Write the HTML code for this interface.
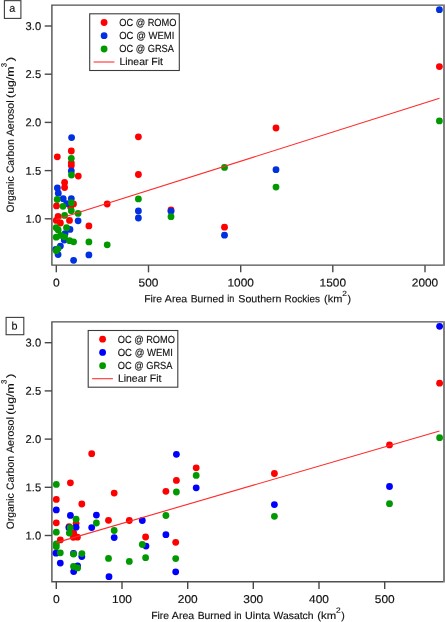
<!DOCTYPE html>
<html lang="en"><head><meta charset="utf-8"><title>Organic Carbon Aerosol vs Fire Area Burned</title>
<style>html,body{margin:0;padding:0;background:#fff}svg{display:block;will-change:transform}text{font-family:"Liberation Sans",sans-serif}</style></head>
<body>
<svg width="445" height="622" viewBox="0 0 445 622">
<rect width="445" height="622" fill="#fff"/>
<rect x="443" y="4.45" width="2" height="261.4" fill="#808080"/>
<path d="M51.9 5.15H443.2M51.9 265.15H443.2M51.9 4.45V265.84999999999997" fill="none" stroke="#505050" stroke-width="1.4"/>
<path d="M44.699999999999996 26.0H51.9" stroke="#484848" stroke-width="1.4"/>
<text x="25.6" y="29.9" transform="rotate(0.03 25.6 29.9)" text-anchor="start" font-size="11.3" fill="#111" stroke="#111" stroke-width="0.15" font-family="Liberation Sans, sans-serif" textLength="15.5" lengthAdjust="spacingAndGlyphs">3.0</text>
<path d="M44.699999999999996 74.2H51.9" stroke="#484848" stroke-width="1.4"/>
<text x="25.6" y="78.1" transform="rotate(0.03 25.6 78.1)" text-anchor="start" font-size="11.3" fill="#111" stroke="#111" stroke-width="0.15" font-family="Liberation Sans, sans-serif" textLength="15.5" lengthAdjust="spacingAndGlyphs">2.5</text>
<path d="M44.699999999999996 122.4H51.9" stroke="#484848" stroke-width="1.4"/>
<text x="25.6" y="126.3" transform="rotate(0.03 25.6 126.3)" text-anchor="start" font-size="11.3" fill="#111" stroke="#111" stroke-width="0.15" font-family="Liberation Sans, sans-serif" textLength="15.5" lengthAdjust="spacingAndGlyphs">2.0</text>
<path d="M44.699999999999996 170.6H51.9" stroke="#484848" stroke-width="1.4"/>
<text x="25.6" y="174.63" transform="rotate(0.03 25.6 174.63)" text-anchor="start" font-size="11.3" fill="#111" stroke="#111" stroke-width="0.15" font-family="Liberation Sans, sans-serif" textLength="15.5" lengthAdjust="spacingAndGlyphs">1.5</text>
<path d="M44.699999999999996 218.8H51.9" stroke="#484848" stroke-width="1.4"/>
<text x="25.6" y="222.7" transform="rotate(0.03 25.6 222.7)" text-anchor="start" font-size="11.3" fill="#111" stroke="#111" stroke-width="0.15" font-family="Liberation Sans, sans-serif" textLength="15.5" lengthAdjust="spacingAndGlyphs">1.0</text>
<path d="M56.3 265.15V272.34999999999997" stroke="#484848" stroke-width="1.4"/>
<text x="52.92" y="286.4" transform="rotate(0.03 52.92 286.4)" text-anchor="start" font-size="11.3" fill="#111" stroke="#111" stroke-width="0.15" font-family="Liberation Sans, sans-serif" textLength="6.75" lengthAdjust="spacingAndGlyphs">0</text>
<path d="M148.5 265.15V272.34999999999997" stroke="#484848" stroke-width="1.4"/>
<text x="138.57" y="286.4" transform="rotate(0.03 138.57 286.4)" text-anchor="start" font-size="11.3" fill="#111" stroke="#111" stroke-width="0.15" font-family="Liberation Sans, sans-serif" textLength="19.85" lengthAdjust="spacingAndGlyphs">500</text>
<path d="M240.7 265.15V272.34999999999997" stroke="#484848" stroke-width="1.4"/>
<text x="227.5" y="286.4" transform="rotate(0.03 227.5 286.4)" text-anchor="start" font-size="11.3" fill="#111" stroke="#111" stroke-width="0.15" font-family="Liberation Sans, sans-serif" textLength="26.4" lengthAdjust="spacingAndGlyphs">1000</text>
<path d="M332.8 265.15V272.34999999999997" stroke="#484848" stroke-width="1.4"/>
<text x="319.6" y="286.4" transform="rotate(0.03 319.6 286.4)" text-anchor="start" font-size="11.3" fill="#111" stroke="#111" stroke-width="0.15" font-family="Liberation Sans, sans-serif" textLength="26.4" lengthAdjust="spacingAndGlyphs">1500</text>
<path d="M425.0 265.15V272.34999999999997" stroke="#484848" stroke-width="1.4"/>
<text x="411.8" y="286.4" transform="rotate(0.03 411.8 286.4)" text-anchor="start" font-size="11.3" fill="#111" stroke="#111" stroke-width="0.15" font-family="Liberation Sans, sans-serif" textLength="26.4" lengthAdjust="spacingAndGlyphs">2000</text>
<text x="144.15" y="302.3" transform="rotate(0.03 144.15 302.3)" text-anchor="start" font-size="10.3" fill="#111" stroke="#111" stroke-width="0.15" font-family="Liberation Sans, sans-serif" textLength="17.92" lengthAdjust="spacingAndGlyphs">Fire</text>
<text x="164.88" y="302.3" transform="rotate(0.03 164.88 302.3)" text-anchor="start" font-size="10.3" fill="#111" stroke="#111" stroke-width="0.15" font-family="Liberation Sans, sans-serif" textLength="22.32" lengthAdjust="spacingAndGlyphs">Area</text>
<text x="190.65" y="302.3" transform="rotate(0.03 190.65 302.3)" text-anchor="start" font-size="10.3" fill="#111" stroke="#111" stroke-width="0.15" font-family="Liberation Sans, sans-serif" textLength="33.42" lengthAdjust="spacingAndGlyphs">Burned</text>
<text x="227.29" y="302.3" transform="rotate(0.03 227.29 302.3)" text-anchor="start" font-size="10.3" fill="#111" stroke="#111" stroke-width="0.15" font-family="Liberation Sans, sans-serif" textLength="7.1" lengthAdjust="spacingAndGlyphs">in</text>
<text x="238.32" y="302.3" transform="rotate(0.03 238.32 302.3)" text-anchor="start" font-size="10.3" fill="#111" stroke="#111" stroke-width="0.15" font-family="Liberation Sans, sans-serif" textLength="43.17" lengthAdjust="spacingAndGlyphs">Southern</text>
<text x="284.58" y="302.3" transform="rotate(0.03 284.58 302.3)" text-anchor="start" font-size="10.3" fill="#111" stroke="#111" stroke-width="0.15" font-family="Liberation Sans, sans-serif" textLength="35.38" lengthAdjust="spacingAndGlyphs">Rockies</text>
<text x="324.02" y="302.3" transform="rotate(0.03 324.02 302.3)" text-anchor="start" font-size="10.3" fill="#111" stroke="#111" stroke-width="0.15" font-family="Liberation Sans, sans-serif" textLength="18.31" lengthAdjust="spacingAndGlyphs">(km</text>
<text x="342.38" y="296.0" transform="rotate(0.03 342.38 296.0)" text-anchor="start" font-size="7.5" fill="#111" stroke="#111" stroke-width="0.15" font-family="Liberation Sans, sans-serif" textLength="4.64" lengthAdjust="spacingAndGlyphs">2</text>
<text x="347.64" y="302.3" transform="rotate(0.03 347.64 302.3)" text-anchor="start" font-size="10.3" fill="#111" stroke="#111" stroke-width="0.15" font-family="Liberation Sans, sans-serif" textLength="3.52" lengthAdjust="spacingAndGlyphs">)</text>
<g transform="translate(13.8 212.2) rotate(-90)"><text x="-0.29" y="0" transform="rotate(0.03 -0.29 0)" text-anchor="start" font-size="10.3" fill="#111" stroke="#111" stroke-width="0.15" font-family="Liberation Sans, sans-serif" textLength="36.06" lengthAdjust="spacingAndGlyphs">Organic</text><text x="39.08" y="0" transform="rotate(0.03 39.08 0)" text-anchor="start" font-size="10.3" fill="#111" stroke="#111" stroke-width="0.15" font-family="Liberation Sans, sans-serif" textLength="33.9" lengthAdjust="spacingAndGlyphs">Carbon</text><text x="75.98" y="0" transform="rotate(0.03 75.98 0)" text-anchor="start" font-size="10.3" fill="#111" stroke="#111" stroke-width="0.15" font-family="Liberation Sans, sans-serif" textLength="35.83" lengthAdjust="spacingAndGlyphs">Aerosol</text><text x="114.24" y="0" transform="rotate(0.03 114.24 0)" text-anchor="start" font-size="10.3" fill="#111" stroke="#111" stroke-width="0.15" font-family="Liberation Sans, sans-serif" textLength="31.48" lengthAdjust="spacingAndGlyphs">(ug/m</text><text x="145.0" y="-7.2" transform="rotate(0.03 145.0 -7.2)" text-anchor="start" font-size="7.5" fill="#111" stroke="#111" stroke-width="0.15" font-family="Liberation Sans, sans-serif" textLength="4.34" lengthAdjust="spacingAndGlyphs">3</text><text x="150.92" y="0" transform="rotate(0.03 150.92 0)" text-anchor="start" font-size="10.3" fill="#111" stroke="#111" stroke-width="0.15" font-family="Liberation Sans, sans-serif" textLength="4.4" lengthAdjust="spacingAndGlyphs">)</text></g>
<rect x="4.4" y="0.65" width="16.5" height="17.75" fill="#fff" stroke="#3c3c3c" stroke-width="1.1"/>
<text x="12.2" y="11.8" transform="rotate(0.03 12.2 11.8)" text-anchor="middle" font-size="10.8" fill="#111" stroke="#111" stroke-width="0.15" font-family="Liberation Sans, sans-serif">a</text>
<circle cx="57.3" cy="156.8" r="3.4" fill="#ff0000"/><circle cx="71.3" cy="151" r="3.4" fill="#ff0000"/><circle cx="71.3" cy="162.8" r="3.4" fill="#ff0000"/><circle cx="71.3" cy="165.6" r="3.4" fill="#ff0000"/><circle cx="78.3" cy="176.1" r="3.4" fill="#ff0000"/><circle cx="64.6" cy="182.4" r="3.4" fill="#ff0000"/><circle cx="64.6" cy="187.5" r="3.4" fill="#ff0000"/><circle cx="73.5" cy="203.9" r="3.4" fill="#ff0000"/><circle cx="56.5" cy="205.9" r="3.4" fill="#ff0000"/><circle cx="70.6" cy="207" r="3.4" fill="#ff0000"/><circle cx="58.1" cy="216.5" r="3.4" fill="#ff0000"/><circle cx="56.3" cy="220.4" r="3.4" fill="#ff0000"/><circle cx="60.4" cy="223" r="3.4" fill="#ff0000"/><circle cx="69.5" cy="220.4" r="3.4" fill="#ff0000"/><circle cx="88.9" cy="225.9" r="3.4" fill="#ff0000"/><circle cx="107.2" cy="204" r="3.4" fill="#ff0000"/><circle cx="138.4" cy="136.8" r="3.4" fill="#ff0000"/><circle cx="138.4" cy="174.5" r="3.4" fill="#ff0000"/><circle cx="171" cy="210" r="3.4" fill="#ff0000"/><circle cx="224.5" cy="227.2" r="3.4" fill="#ff0000"/><circle cx="276" cy="128" r="3.4" fill="#ff0000"/><circle cx="439.4" cy="66.6" r="3.4" fill="#ff0000"/>
<circle cx="71.6" cy="137.6" r="3.4" fill="#0030e0"/><circle cx="71.3" cy="171" r="3.4" fill="#0030e0"/><circle cx="57.4" cy="187.9" r="3.4" fill="#0030e0"/><circle cx="58.3" cy="193.2" r="3.4" fill="#0030e0"/><circle cx="63.2" cy="198.7" r="3.4" fill="#0030e0"/><circle cx="71.3" cy="198.6" r="3.4" fill="#0030e0"/><circle cx="66.6" cy="203.7" r="3.4" fill="#0030e0"/><circle cx="78.1" cy="220.8" r="3.4" fill="#0030e0"/><circle cx="70" cy="229.4" r="3.4" fill="#0030e0"/><circle cx="65" cy="233.6" r="3.4" fill="#0030e0"/><circle cx="64.2" cy="240" r="3.4" fill="#0030e0"/><circle cx="60.4" cy="246.1" r="3.4" fill="#0030e0"/><circle cx="55.8" cy="249.4" r="3.4" fill="#0030e0"/><circle cx="58.1" cy="254.6" r="3.4" fill="#0030e0"/><circle cx="88.9" cy="254.9" r="3.4" fill="#0030e0"/><circle cx="73.6" cy="260.3" r="3.4" fill="#0030e0"/><circle cx="138.4" cy="211" r="3.4" fill="#0030e0"/><circle cx="138.4" cy="218" r="3.4" fill="#0030e0"/><circle cx="171" cy="211.2" r="3.4" fill="#0030e0"/><circle cx="224.5" cy="235.2" r="3.4" fill="#0030e0"/><circle cx="276" cy="169.7" r="3.4" fill="#0030e0"/><circle cx="439.4" cy="9.7" r="3.4" fill="#0030e0"/>
<circle cx="71.3" cy="158.3" r="3.4" fill="#009a00"/><circle cx="71.5" cy="175" r="3.4" fill="#009a00"/><circle cx="57.2" cy="199.5" r="3.4" fill="#009a00"/><circle cx="71.3" cy="202.7" r="3.4" fill="#009a00"/><circle cx="63" cy="206.3" r="3.4" fill="#009a00"/><circle cx="71.3" cy="210.7" r="3.4" fill="#009a00"/><circle cx="78.1" cy="213.4" r="3.4" fill="#009a00"/><circle cx="64.6" cy="215.4" r="3.4" fill="#009a00"/><circle cx="56.2" cy="227.7" r="3.4" fill="#009a00"/><circle cx="58.2" cy="230" r="3.4" fill="#009a00"/><circle cx="66.5" cy="227.7" r="3.4" fill="#009a00"/><circle cx="56.2" cy="237.2" r="3.4" fill="#009a00"/><circle cx="60.7" cy="235.4" r="3.4" fill="#009a00"/><circle cx="64.6" cy="236.8" r="3.4" fill="#009a00"/><circle cx="69.6" cy="240.7" r="3.4" fill="#009a00"/><circle cx="73.6" cy="241.8" r="3.4" fill="#009a00"/><circle cx="88.9" cy="241.9" r="3.4" fill="#009a00"/><circle cx="107.2" cy="244.8" r="3.4" fill="#009a00"/><circle cx="57.9" cy="248.8" r="3.4" fill="#009a00"/><circle cx="56.3" cy="250.8" r="3.4" fill="#009a00"/><circle cx="138.4" cy="198.9" r="3.4" fill="#009a00"/><circle cx="171" cy="216.7" r="3.4" fill="#009a00"/><circle cx="224.5" cy="167.4" r="3.4" fill="#009a00"/><circle cx="276" cy="187.1" r="3.4" fill="#009a00"/><circle cx="439.4" cy="120.9" r="3.4" fill="#009a00"/>
<path d="M56.3 219.5L439.5 98.3" stroke="#ff2a2a" stroke-width="1.1" fill="none"/>
<g transform="translate(0 0)">
<rect x="89.7" y="13.8" width="89.6" height="56.7" fill="#fff" stroke="#3c3c3c" stroke-width="1.1"/>
<circle cx="104.1" cy="22.5" r="3.4" fill="#ff0000"/><circle cx="104.1" cy="35.7" r="3.4" fill="#0030e0"/><circle cx="104.1" cy="49" r="3.4" fill="#009a00"/>
<path d="M93.6 62H114.4" stroke="#ff3030" stroke-width="1.1"/>
<text x="119.2" y="25.9" transform="rotate(0.03 119.2 25.9)" text-anchor="start" font-size="10.3" fill="#111" stroke="#111" stroke-width="0.15" font-family="Liberation Sans, sans-serif" textLength="57.3" lengthAdjust="spacingAndGlyphs">OC @ ROMO</text>
<text x="119.2" y="39.1" transform="rotate(0.03 119.2 39.1)" text-anchor="start" font-size="10.3" fill="#111" stroke="#111" stroke-width="0.15" font-family="Liberation Sans, sans-serif" textLength="55.2" lengthAdjust="spacingAndGlyphs">OC @ WEMI</text>
<text x="119.2" y="52.2" transform="rotate(0.03 119.2 52.2)" text-anchor="start" font-size="10.3" fill="#111" stroke="#111" stroke-width="0.15" font-family="Liberation Sans, sans-serif" textLength="54.8" lengthAdjust="spacingAndGlyphs">OC @ GRSA</text>
<text x="119.45" y="65" transform="rotate(0.03 119.45 65)" text-anchor="start" font-size="10.3" fill="#111" stroke="#111" stroke-width="0.15" font-family="Liberation Sans, sans-serif" textLength="43.5" lengthAdjust="spacingAndGlyphs">Linear Fit</text>
</g>
<rect x="443" y="321.2" width="2" height="261.25" fill="#808080"/>
<path d="M51.9 321.9H443.2M51.9 581.75H443.2M51.9 321.2V582.45" fill="none" stroke="#505050" stroke-width="1.4"/>
<path d="M44.699999999999996 342.7H51.9" stroke="#484848" stroke-width="1.4"/>
<text x="25.6" y="346.6" transform="rotate(0.03 25.6 346.6)" text-anchor="start" font-size="11.3" fill="#111" stroke="#111" stroke-width="0.15" font-family="Liberation Sans, sans-serif" textLength="15.5" lengthAdjust="spacingAndGlyphs">3.0</text>
<path d="M44.699999999999996 390.9H51.9" stroke="#484848" stroke-width="1.4"/>
<text x="25.6" y="394.8" transform="rotate(0.03 25.6 394.8)" text-anchor="start" font-size="11.3" fill="#111" stroke="#111" stroke-width="0.15" font-family="Liberation Sans, sans-serif" textLength="15.5" lengthAdjust="spacingAndGlyphs">2.5</text>
<path d="M44.699999999999996 439.1H51.9" stroke="#484848" stroke-width="1.4"/>
<text x="25.6" y="443.0" transform="rotate(0.03 25.6 443.0)" text-anchor="start" font-size="11.3" fill="#111" stroke="#111" stroke-width="0.15" font-family="Liberation Sans, sans-serif" textLength="15.5" lengthAdjust="spacingAndGlyphs">2.0</text>
<path d="M44.699999999999996 487.3H51.9" stroke="#484848" stroke-width="1.4"/>
<text x="25.6" y="491.2" transform="rotate(0.03 25.6 491.2)" text-anchor="start" font-size="11.3" fill="#111" stroke="#111" stroke-width="0.15" font-family="Liberation Sans, sans-serif" textLength="15.5" lengthAdjust="spacingAndGlyphs">1.5</text>
<path d="M44.699999999999996 535.5H51.9" stroke="#484848" stroke-width="1.4"/>
<text x="25.6" y="539.4" transform="rotate(0.03 25.6 539.4)" text-anchor="start" font-size="11.3" fill="#111" stroke="#111" stroke-width="0.15" font-family="Liberation Sans, sans-serif" textLength="15.5" lengthAdjust="spacingAndGlyphs">1.0</text>
<path d="M56.3 581.75V588.95" stroke="#484848" stroke-width="1.4"/>
<text x="52.92" y="603.1" transform="rotate(0.03 52.92 603.1)" text-anchor="start" font-size="11.3" fill="#111" stroke="#111" stroke-width="0.15" font-family="Liberation Sans, sans-serif" textLength="6.75" lengthAdjust="spacingAndGlyphs">0</text>
<path d="M122.0 581.75V588.95" stroke="#484848" stroke-width="1.4"/>
<text x="112.08" y="603.1" transform="rotate(0.03 112.08 603.1)" text-anchor="start" font-size="11.3" fill="#111" stroke="#111" stroke-width="0.15" font-family="Liberation Sans, sans-serif" textLength="19.85" lengthAdjust="spacingAndGlyphs">100</text>
<path d="M187.7 581.75V588.95" stroke="#484848" stroke-width="1.4"/>
<text x="177.77" y="603.1" transform="rotate(0.03 177.77 603.1)" text-anchor="start" font-size="11.3" fill="#111" stroke="#111" stroke-width="0.15" font-family="Liberation Sans, sans-serif" textLength="19.85" lengthAdjust="spacingAndGlyphs">200</text>
<path d="M253.3 581.75V588.95" stroke="#484848" stroke-width="1.4"/>
<text x="243.38" y="603.1" transform="rotate(0.03 243.38 603.1)" text-anchor="start" font-size="11.3" fill="#111" stroke="#111" stroke-width="0.15" font-family="Liberation Sans, sans-serif" textLength="19.85" lengthAdjust="spacingAndGlyphs">300</text>
<path d="M319.0 581.75V588.95" stroke="#484848" stroke-width="1.4"/>
<text x="309.07" y="603.1" transform="rotate(0.03 309.07 603.1)" text-anchor="start" font-size="11.3" fill="#111" stroke="#111" stroke-width="0.15" font-family="Liberation Sans, sans-serif" textLength="19.85" lengthAdjust="spacingAndGlyphs">400</text>
<path d="M384.7 581.75V588.95" stroke="#484848" stroke-width="1.4"/>
<text x="374.77" y="603.1" transform="rotate(0.03 374.77 603.1)" text-anchor="start" font-size="11.3" fill="#111" stroke="#111" stroke-width="0.15" font-family="Liberation Sans, sans-serif" textLength="19.85" lengthAdjust="spacingAndGlyphs">500</text>
<text x="151.15" y="619" transform="rotate(0.03 151.15 619)" text-anchor="start" font-size="10.3" fill="#111" stroke="#111" stroke-width="0.15" font-family="Liberation Sans, sans-serif" textLength="17.92" lengthAdjust="spacingAndGlyphs">Fire</text>
<text x="171.88" y="619" transform="rotate(0.03 171.88 619)" text-anchor="start" font-size="10.3" fill="#111" stroke="#111" stroke-width="0.15" font-family="Liberation Sans, sans-serif" textLength="22.32" lengthAdjust="spacingAndGlyphs">Area</text>
<text x="197.65" y="619" transform="rotate(0.03 197.65 619)" text-anchor="start" font-size="10.3" fill="#111" stroke="#111" stroke-width="0.15" font-family="Liberation Sans, sans-serif" textLength="33.42" lengthAdjust="spacingAndGlyphs">Burned</text>
<text x="234.17" y="619" transform="rotate(0.03 234.17 619)" text-anchor="start" font-size="10.3" fill="#111" stroke="#111" stroke-width="0.15" font-family="Liberation Sans, sans-serif" textLength="7.34" lengthAdjust="spacingAndGlyphs">in</text>
<text x="245.07" y="619" transform="rotate(0.03 245.07 619)" text-anchor="start" font-size="10.3" fill="#111" stroke="#111" stroke-width="0.15" font-family="Liberation Sans, sans-serif" textLength="25.13" lengthAdjust="spacingAndGlyphs">Uinta</text>
<text x="273.55" y="619" transform="rotate(0.03 273.55 619)" text-anchor="start" font-size="10.3" fill="#111" stroke="#111" stroke-width="0.15" font-family="Liberation Sans, sans-serif" textLength="40.01" lengthAdjust="spacingAndGlyphs">Wasatch</text>
<text x="317.3" y="619" transform="rotate(0.03 317.3 619)" text-anchor="start" font-size="10.3" fill="#111" stroke="#111" stroke-width="0.15" font-family="Liberation Sans, sans-serif" textLength="18.85" lengthAdjust="spacingAndGlyphs">(km</text>
<text x="336.08" y="612.7" transform="rotate(0.03 336.08 612.7)" text-anchor="start" font-size="7.5" fill="#111" stroke="#111" stroke-width="0.15" font-family="Liberation Sans, sans-serif" textLength="4.64" lengthAdjust="spacingAndGlyphs">2</text>
<text x="341.34" y="619" transform="rotate(0.03 341.34 619)" text-anchor="start" font-size="10.3" fill="#111" stroke="#111" stroke-width="0.15" font-family="Liberation Sans, sans-serif" textLength="3.52" lengthAdjust="spacingAndGlyphs">)</text>
<g transform="translate(13.8 529) rotate(-90)"><text x="-0.29" y="0" transform="rotate(0.03 -0.29 0)" text-anchor="start" font-size="10.3" fill="#111" stroke="#111" stroke-width="0.15" font-family="Liberation Sans, sans-serif" textLength="36.06" lengthAdjust="spacingAndGlyphs">Organic</text><text x="39.08" y="0" transform="rotate(0.03 39.08 0)" text-anchor="start" font-size="10.3" fill="#111" stroke="#111" stroke-width="0.15" font-family="Liberation Sans, sans-serif" textLength="33.9" lengthAdjust="spacingAndGlyphs">Carbon</text><text x="75.98" y="0" transform="rotate(0.03 75.98 0)" text-anchor="start" font-size="10.3" fill="#111" stroke="#111" stroke-width="0.15" font-family="Liberation Sans, sans-serif" textLength="35.83" lengthAdjust="spacingAndGlyphs">Aerosol</text><text x="114.24" y="0" transform="rotate(0.03 114.24 0)" text-anchor="start" font-size="10.3" fill="#111" stroke="#111" stroke-width="0.15" font-family="Liberation Sans, sans-serif" textLength="31.48" lengthAdjust="spacingAndGlyphs">(ug/m</text><text x="145.0" y="-7.2" transform="rotate(0.03 145.0 -7.2)" text-anchor="start" font-size="7.5" fill="#111" stroke="#111" stroke-width="0.15" font-family="Liberation Sans, sans-serif" textLength="4.34" lengthAdjust="spacingAndGlyphs">3</text><text x="150.92" y="0" transform="rotate(0.03 150.92 0)" text-anchor="start" font-size="10.3" fill="#111" stroke="#111" stroke-width="0.15" font-family="Liberation Sans, sans-serif" textLength="4.4" lengthAdjust="spacingAndGlyphs">)</text></g>
<rect x="6.1" y="317.4" width="17.700000000000003" height="17.30000000000001" fill="#fff" stroke="#3c3c3c" stroke-width="1.1"/>
<text x="14.6" y="329.4" transform="rotate(0.03 14.6 329.4)" text-anchor="middle" font-size="10.8" fill="#111" stroke="#111" stroke-width="0.15" font-family="Liberation Sans, sans-serif">b</text>
<circle cx="91.7" cy="453.7" r="3.4" fill="#ff0000"/><circle cx="70.4" cy="482.8" r="3.4" fill="#ff0000"/><circle cx="114.2" cy="493.1" r="3.4" fill="#ff0000"/><circle cx="56.3" cy="499.4" r="3.4" fill="#ff0000"/><circle cx="81.8" cy="504" r="3.4" fill="#ff0000"/><circle cx="56.3" cy="522.8" r="3.4" fill="#ff0000"/><circle cx="76.1" cy="523.3" r="3.4" fill="#ff0000"/><circle cx="69.1" cy="526.6" r="3.4" fill="#ff0000"/><circle cx="108.5" cy="520.3" r="3.4" fill="#ff0000"/><circle cx="73.7" cy="533" r="3.4" fill="#ff0000"/><circle cx="73.3" cy="537.3" r="3.4" fill="#ff0000"/><circle cx="77.4" cy="537.2" r="3.4" fill="#ff0000"/><circle cx="60.3" cy="539.9" r="3.4" fill="#ff0000"/><circle cx="129.3" cy="520.5" r="3.4" fill="#ff0000"/><circle cx="145.6" cy="537" r="3.4" fill="#ff0000"/><circle cx="165.9" cy="491.3" r="3.4" fill="#ff0000"/><circle cx="176.4" cy="480.4" r="3.4" fill="#ff0000"/><circle cx="175.7" cy="542.3" r="3.4" fill="#ff0000"/><circle cx="196.2" cy="467.8" r="3.4" fill="#ff0000"/><circle cx="274.4" cy="473.5" r="3.4" fill="#ff0000"/><circle cx="389.5" cy="444.9" r="3.4" fill="#ff0000"/><circle cx="439.6" cy="383.2" r="3.4" fill="#ff0000"/>
<circle cx="56.3" cy="509.9" r="3.4" fill="#0000ff"/><circle cx="70.4" cy="515.4" r="3.4" fill="#0000ff"/><circle cx="96.4" cy="515.1" r="3.4" fill="#0000ff"/><circle cx="76.1" cy="527.2" r="3.4" fill="#0000ff"/><circle cx="68.9" cy="527.7" r="3.4" fill="#0000ff"/><circle cx="91.7" cy="527.6" r="3.4" fill="#0000ff"/><circle cx="114.2" cy="537.6" r="3.4" fill="#0000ff"/><circle cx="56" cy="553.2" r="3.4" fill="#0000ff"/><circle cx="81.8" cy="556.5" r="3.4" fill="#0000ff"/><circle cx="73.5" cy="553.4" r="3.4" fill="#0000ff"/><circle cx="60.3" cy="563.1" r="3.4" fill="#0000ff"/><circle cx="77.6" cy="566" r="3.4" fill="#0000ff"/><circle cx="73.7" cy="571.6" r="3.4" fill="#0000ff"/><circle cx="142.3" cy="520.5" r="3.4" fill="#0000ff"/><circle cx="165.9" cy="534.7" r="3.4" fill="#0000ff"/><circle cx="146" cy="546.1" r="3.4" fill="#0000ff"/><circle cx="176.4" cy="454.3" r="3.4" fill="#0000ff"/><circle cx="196.2" cy="487.8" r="3.4" fill="#0000ff"/><circle cx="175.7" cy="571.8" r="3.4" fill="#0000ff"/><circle cx="109" cy="576.7" r="3.4" fill="#0000ff"/><circle cx="274.4" cy="504.6" r="3.4" fill="#0000ff"/><circle cx="389.5" cy="486.5" r="3.4" fill="#0000ff"/><circle cx="439.6" cy="326.3" r="3.4" fill="#0000ff"/>
<circle cx="56.3" cy="484.4" r="3.4" fill="#009a00"/><circle cx="76.1" cy="519.2" r="3.4" fill="#009a00"/><circle cx="96.4" cy="523" r="3.4" fill="#009a00"/><circle cx="70.2" cy="527.6" r="3.4" fill="#009a00"/><circle cx="69.3" cy="533.1" r="3.4" fill="#009a00"/><circle cx="56.3" cy="532.2" r="3.4" fill="#009a00"/><circle cx="114.2" cy="530.5" r="3.4" fill="#009a00"/><circle cx="56.3" cy="544" r="3.4" fill="#009a00"/><circle cx="56.3" cy="546.7" r="3.4" fill="#009a00"/><circle cx="60.3" cy="552.8" r="3.4" fill="#009a00"/><circle cx="73.5" cy="554.1" r="3.4" fill="#009a00"/><circle cx="81.9" cy="553.6" r="3.4" fill="#009a00"/><circle cx="108.5" cy="558.4" r="3.4" fill="#009a00"/><circle cx="73.5" cy="566.4" r="3.4" fill="#009a00"/><circle cx="77.6" cy="567.9" r="3.4" fill="#009a00"/><circle cx="142.3" cy="544.5" r="3.4" fill="#009a00"/><circle cx="145.6" cy="557.7" r="3.4" fill="#009a00"/><circle cx="129.3" cy="561.4" r="3.4" fill="#009a00"/><circle cx="165.9" cy="515.5" r="3.4" fill="#009a00"/><circle cx="176.4" cy="492" r="3.4" fill="#009a00"/><circle cx="175.7" cy="558.6" r="3.4" fill="#009a00"/><circle cx="196.2" cy="475.4" r="3.4" fill="#009a00"/><circle cx="274.4" cy="516.3" r="3.4" fill="#009a00"/><circle cx="389.5" cy="503.7" r="3.4" fill="#009a00"/><circle cx="439.6" cy="437.7" r="3.4" fill="#009a00"/>
<path d="M56.3 542.6L439.5 431" stroke="#ff2a2a" stroke-width="1.1" fill="none"/>
<g transform="translate(-1.5 316.7)">
<rect x="89.7" y="13.8" width="89.6" height="56.7" fill="#fff" stroke="#3c3c3c" stroke-width="1.1"/>
<circle cx="104.1" cy="22.5" r="3.4" fill="#ff0000"/><circle cx="104.1" cy="35.7" r="3.4" fill="#0000ff"/><circle cx="104.1" cy="49" r="3.4" fill="#009a00"/>
<path d="M93.6 62H114.4" stroke="#ff3030" stroke-width="1.1"/>
<text x="119.2" y="25.9" transform="rotate(0.03 119.2 25.9)" text-anchor="start" font-size="10.3" fill="#111" stroke="#111" stroke-width="0.15" font-family="Liberation Sans, sans-serif" textLength="57.3" lengthAdjust="spacingAndGlyphs">OC @ ROMO</text>
<text x="119.2" y="39.1" transform="rotate(0.03 119.2 39.1)" text-anchor="start" font-size="10.3" fill="#111" stroke="#111" stroke-width="0.15" font-family="Liberation Sans, sans-serif" textLength="55.2" lengthAdjust="spacingAndGlyphs">OC @ WEMI</text>
<text x="119.2" y="52.2" transform="rotate(0.03 119.2 52.2)" text-anchor="start" font-size="10.3" fill="#111" stroke="#111" stroke-width="0.15" font-family="Liberation Sans, sans-serif" textLength="54.8" lengthAdjust="spacingAndGlyphs">OC @ GRSA</text>
<text x="119.45" y="65" transform="rotate(0.03 119.45 65)" text-anchor="start" font-size="10.3" fill="#111" stroke="#111" stroke-width="0.15" font-family="Liberation Sans, sans-serif" textLength="43.5" lengthAdjust="spacingAndGlyphs">Linear Fit</text>
</g>
</svg>
</body></html>
